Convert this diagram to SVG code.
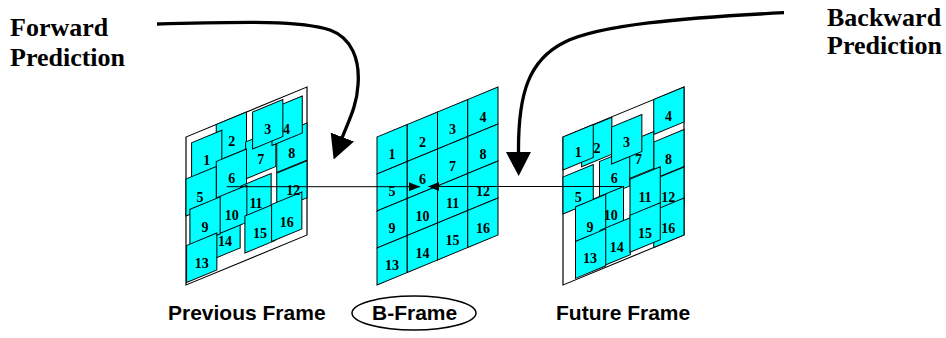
<svg xmlns="http://www.w3.org/2000/svg" width="946" height="338" viewBox="0 0 946 338">
<style>
.tile{fill:#00FFFF;stroke:#000;stroke-width:1}
.frame{fill:#fff;stroke:#000;stroke-width:1.2}
.num{font-family:"Liberation Serif","Times New Roman",serif;font-weight:bold;font-size:14px;text-anchor:middle;fill:#000}
.title{font-family:"Liberation Serif","Times New Roman",serif;font-weight:bold;font-size:26px;fill:#000}
.cap{font-family:"Liberation Sans",Arial,sans-serif;font-weight:bold;font-size:21px;fill:#000}
.thin{stroke:#000;stroke-width:1;fill:none}
.thick{stroke:#000;stroke-width:3.3;fill:none}
</style>
<defs>
<marker id="small" markerUnits="userSpaceOnUse" markerWidth="11" markerHeight="9" viewBox="0 0 11 9" refX="11" refY="4.5" orient="auto"><path d="M0,0 L11,4.5 L0,9 z" fill="#000"/></marker>
<marker id="big" markerUnits="userSpaceOnUse" markerWidth="24" markerHeight="25" viewBox="0 0 24 25" refX="1" refY="12.5" orient="auto"><path d="M0,0 L24,12.5 L0,25 z" fill="#000"/></marker>
</defs>

<g id="previous-frame" transform="translate(186,137) skewY(-22.45)">
<rect class="frame" x="0" y="0" width="121" height="148"/>
<rect class="tile" x="30.25" y="0" width="30.25" height="37"/>
<rect class="tile" x="5.6" y="8" width="30.25" height="37"/>
<rect class="tile" x="59.6" y="29.7" width="30.25" height="37"/>
<rect class="tile" x="90.75" y="36" width="30.25" height="37"/>
<rect class="tile" x="86" y="7" width="30.25" height="37"/>
<rect class="tile" x="66.6" y="2.5" width="30.25" height="37"/>
<rect class="tile" x="30.25" y="37" width="30.25" height="37"/>
<rect class="tile" x="0" y="42" width="30.25" height="37"/>
<rect class="tile" x="90.75" y="73.8" width="30.25" height="37"/>
<rect class="tile" x="54.9" y="71.7" width="30.25" height="37"/>
<rect class="tile" x="23.9" y="96.3" width="30.25" height="37"/>
<rect class="tile" x="30.6" y="73.4" width="30.25" height="37"/>
<rect class="tile" x="3.9" y="74" width="30.25" height="37"/>
<rect class="tile" x="0.6" y="108.7" width="30.25" height="37"/>
<rect class="tile" x="58.9" y="103.4" width="30.25" height="37"/>
<rect class="tile" x="85.6" y="102.8" width="30.25" height="37"/>
<text class="num" transform="translate(20.7,36.5) skewY(22.45)">1</text>
<text class="num" transform="translate(45.7,27.9) skewY(22.45)">2</text>
<text class="num" transform="translate(81.7,31) skewY(22.45)">3</text>
<text class="num" transform="translate(100.5,38.5) skewY(22.45)">4</text>
<text class="num" transform="translate(14,70.5) skewY(22.45)">5</text>
<text class="num" transform="translate(45.7,65.2) skewY(22.45)">6</text>
<text class="num" transform="translate(74.7,58.2) skewY(22.45)">7</text>
<text class="num" transform="translate(105.7,64.4) skewY(22.45)">8</text>
<text class="num" transform="translate(19,102.5) skewY(22.45)">9</text>
<text class="num" transform="translate(45.7,101.9) skewY(22.45)">10</text>
<text class="num" transform="translate(70,100.2) skewY(22.45)">11</text>
<text class="num" transform="translate(107.3,102.3) skewY(22.45)">12</text>
<text class="num" transform="translate(15.7,137.2) skewY(22.45)">13</text>
<text class="num" transform="translate(39,124.8) skewY(22.45)">14</text>
<text class="num" transform="translate(74,131.9) skewY(22.45)">15</text>
<text class="num" transform="translate(100.7,131.3) skewY(22.45)">16</text>
</g>

<g id="b-frame" transform="translate(377,137) skewY(-22.45)">
<rect class="tile" x="0" y="0" width="30.25" height="37"/>
<rect class="tile" x="30.25" y="0" width="30.25" height="37"/>
<rect class="tile" x="60.5" y="0" width="30.25" height="37"/>
<rect class="tile" x="90.75" y="0" width="30.25" height="37"/>
<rect class="tile" x="0" y="37" width="30.25" height="37"/>
<rect class="tile" x="30.25" y="37" width="30.25" height="37"/>
<rect class="tile" x="60.5" y="37" width="30.25" height="37"/>
<rect class="tile" x="90.75" y="37" width="30.25" height="37"/>
<rect class="tile" x="0" y="74" width="30.25" height="37"/>
<rect class="tile" x="30.25" y="74" width="30.25" height="37"/>
<rect class="tile" x="60.5" y="74" width="30.25" height="37"/>
<rect class="tile" x="90.75" y="74" width="30.25" height="37"/>
<rect class="tile" x="0" y="111" width="30.25" height="37"/>
<rect class="tile" x="30.25" y="111" width="30.25" height="37"/>
<rect class="tile" x="60.5" y="111" width="30.25" height="37"/>
<rect class="tile" x="90.75" y="111" width="30.25" height="37"/>
<text class="num" transform="translate(15.1,28.5) skewY(22.45)">1</text>
<text class="num" transform="translate(45.4,28.5) skewY(22.45)">2</text>
<text class="num" transform="translate(75.6,28.5) skewY(22.45)">3</text>
<text class="num" transform="translate(105.9,28.5) skewY(22.45)">4</text>
<text class="num" transform="translate(15.1,65.5) skewY(22.45)">5</text>
<text class="num" transform="translate(45.4,65.5) skewY(22.45)">6</text>
<text class="num" transform="translate(75.6,65.5) skewY(22.45)">7</text>
<text class="num" transform="translate(105.9,65.5) skewY(22.45)">8</text>
<text class="num" transform="translate(15.1,102.5) skewY(22.45)">9</text>
<text class="num" transform="translate(45.4,102.5) skewY(22.45)">10</text>
<text class="num" transform="translate(75.6,102.5) skewY(22.45)">11</text>
<text class="num" transform="translate(105.9,102.5) skewY(22.45)">12</text>
<text class="num" transform="translate(15.1,139.5) skewY(22.45)">13</text>
<text class="num" transform="translate(45.4,139.5) skewY(22.45)">14</text>
<text class="num" transform="translate(75.6,139.5) skewY(22.45)">15</text>
<text class="num" transform="translate(105.9,139.5) skewY(22.45)">16</text>
</g>

<g id="future-frame" transform="translate(563,137) skewY(-22.45)">
<rect class="frame" x="0" y="0" width="121" height="148"/>
<rect class="tile" x="90.75" y="0" width="30.25" height="35"/>
<rect class="tile" x="90.75" y="42.5" width="30.25" height="37"/>
<rect class="tile" x="90.75" y="80" width="30.25" height="37"/>
<rect class="tile" x="90.75" y="111" width="30.25" height="37"/>
<rect class="tile" x="18.6" y="0.5" width="30.25" height="37"/>
<rect class="tile" x="0" y="0" width="30.25" height="33"/>
<rect class="tile" x="60.5" y="32" width="30.25" height="37"/>
<rect class="tile" x="36.5" y="39.5" width="30.25" height="37"/>
<rect class="tile" x="48.6" y="10" width="30.25" height="37"/>
<rect class="tile" x="0" y="40" width="30.25" height="37"/>
<rect class="tile" x="30.25" y="74.5" width="30.25" height="37"/>
<rect class="tile" x="12.5" y="75" width="30.25" height="37"/>
<rect class="tile" x="67" y="70" width="30.25" height="37"/>
<rect class="tile" x="37" y="108.5" width="30.25" height="37"/>
<rect class="tile" x="12.5" y="109.5" width="30.25" height="37"/>
<rect class="tile" x="67" y="106" width="30.25" height="37"/>
<text class="num" transform="translate(15.3,26) skewY(22.45)">1</text>
<text class="num" transform="translate(33.9,30.2) skewY(22.45)">2</text>
<text class="num" transform="translate(63.5,36) skewY(22.45)">3</text>
<text class="num" transform="translate(105.6,27.5) skewY(22.45)">4</text>
<text class="num" transform="translate(15.3,71) skewY(22.45)">5</text>
<text class="num" transform="translate(51.3,66.9) skewY(22.45)">6</text>
<text class="num" transform="translate(75.5,57.9) skewY(22.45)">7</text>
<text class="num" transform="translate(105.6,71) skewY(22.45)">8</text>
<text class="num" transform="translate(27,105.9) skewY(22.45)">9</text>
<text class="num" transform="translate(47.7,102.7) skewY(22.45)">10</text>
<text class="num" transform="translate(82,98.6) skewY(22.45)">11</text>
<text class="num" transform="translate(105.3,108.2) skewY(22.45)">12</text>
<text class="num" transform="translate(27,137.5) skewY(22.45)">13</text>
<text class="num" transform="translate(53.7,136.9) skewY(22.45)">14</text>
<text class="num" transform="translate(82,135.2) skewY(22.45)">15</text>
<text class="num" transform="translate(105.3,139.8) skewY(22.45)">16</text>
</g>

<g id="connectors">
<path class="thin" d="M226.7,186.7 L420,186.7" marker-end="url(#small)"/>
<path class="thin" d="M621.7,186.5 L428.3,186.5" marker-end="url(#small)"/>
<path class="thick" d="M157,24 C240,22 300,20 330,30 C352,38 360,60 358,85 C357,105 349,120 342,138" marker-end="url(#big)"/>
<path class="thick" d="M784,12.7 C680,18 600,25 565,42 C528,60 518,95 518.5,153" marker-end="url(#big)"/>
</g>

<g id="forward-label"><text class="title" x="10" y="36">Forward</text><text class="title" x="10" y="66">Prediction</text></g>
<g id="backward-label"><text class="title" x="827" y="26">Backward</text><text class="title" x="827" y="54">Prediction</text></g>
<g id="previous-label"><text class="cap" x="168" y="320">Previous Frame</text></g>
<g id="b-label"><ellipse cx="414" cy="313" rx="62" ry="17" fill="none" stroke="#000" stroke-width="1.5"/><text class="cap" x="372" y="320">B-Frame</text></g>
<g id="future-label"><text class="cap" x="556" y="320">Future Frame</text></g>
</svg>
